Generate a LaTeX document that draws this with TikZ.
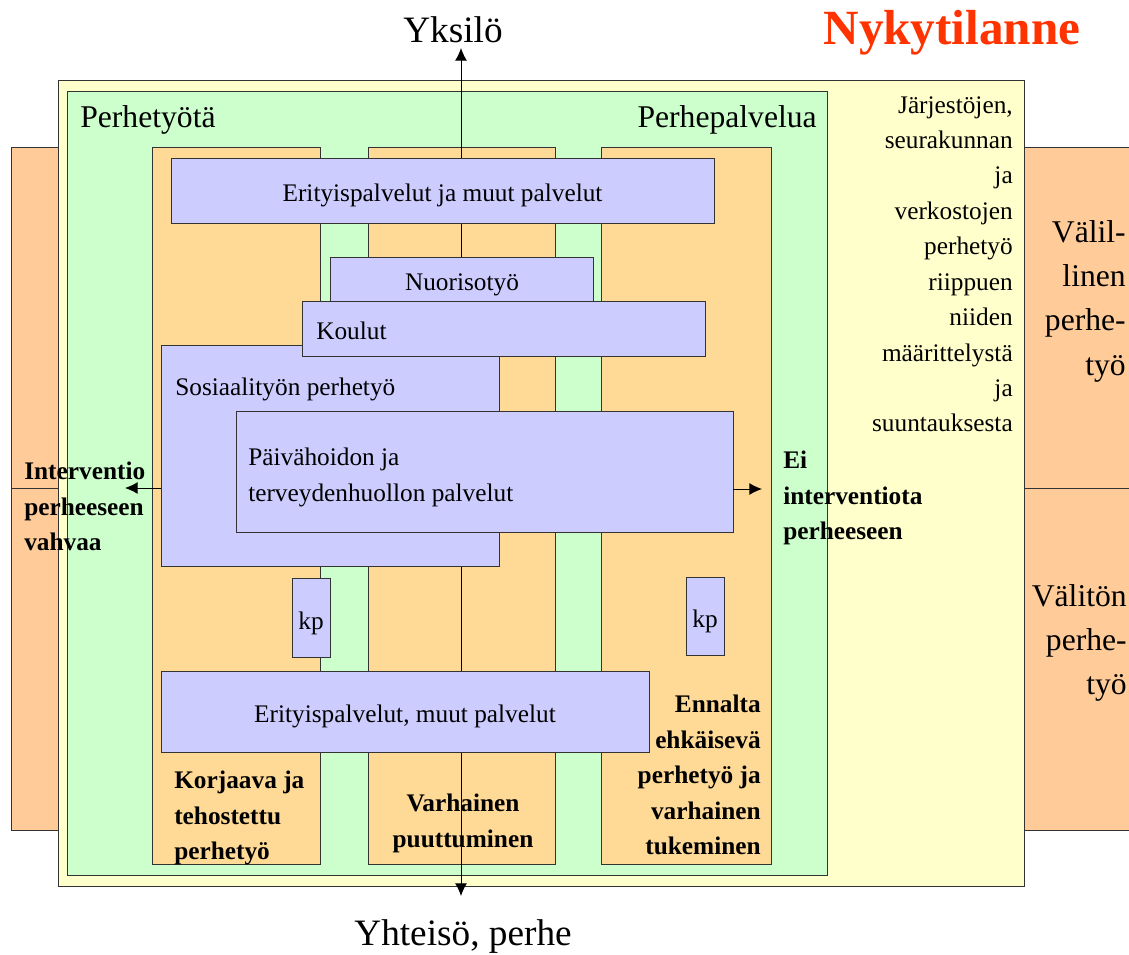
\documentclass[tikz,border=0pt]{standalone}
\usepackage{fontspec}
\setmainfont{Liberation Serif}
\usepackage{xcolor}
\usepackage{tikz}
\usetikzlibrary{arrows.meta, positioning, fit, calc}
\definecolor{paleyellow}{HTML}{FFFFCC}
\definecolor{palegreen}{HTML}{CCFFCC}
\definecolor{colorange}{HTML}{FFDA96}
\definecolor{sideorange}{HTML}{FFCC99}
\definecolor{lilac}{HTML}{CCCCFF}
\definecolor{titlered}{HTML}{FF3300}
\newcommand{\txtsize}{\fontsize{18}{25.2}\selectfont}
\newcommand{\bigsize}{\fontsize{22.5}{31.5}\selectfont}
\newcommand{\axsize}{\fontsize{26.5}{32}\selectfont}
\newcommand{\titlesize}{\fontsize{35}{40}\selectfont}
\tikzstyle{rim} = [draw=black!80, line width=0.6pt]
\tikzstyle{colbox} = [rim, fill=colorange]
\tikzstyle{bluebox} = [rim, fill=lilac, inner sep=0pt]
\tikzstyle{txt} = [inner sep=0pt, font=\txtsize]
\tikzstyle{boldtxt} = [inner sep=0pt, font=\txtsize\bfseries]
\tikzstyle{arrow} = [>={Latex[length=9pt, width=8.5pt]}, line width=0.7pt]

\begin{document}
\begin{tikzpicture}[x=0.025cm, y=-0.025cm]

\useasboundingbox (0, 0) rectangle (1129, 954);
\clip (0, 0) rectangle (1129, 954);

\fill [sideorange] (11, 147) rectangle (70, 830);
\draw [rim] (70, 147) -- (11, 147) -- (11, 830) -- (70, 830);
\draw [rim] (11, 488) -- (70, 488);
\fill [sideorange] (1010, 147) rectangle (1140, 830);
\draw [rim] (1010, 147) -- (1140, 147);
\draw [rim] (1010, 830) -- (1140, 830);
\draw [rim] (1010, 488) -- (1140, 488);

\draw [rim, fill=paleyellow] (58, 80) rectangle (1024, 886);
\draw [rim, fill=palegreen] (67, 91) rectangle (827, 875);

\draw [colbox] (152, 147) rectangle (320, 864);
\draw [colbox] (368, 147) rectangle (555, 864);
\draw [colbox] (601, 147) rectangle (771, 864);

\coordinate (axtop) at (461, 48);
\coordinate (axbot) at (461, 896);
\draw [arrow, <->] (axtop) -- (axbot);

\node [bluebox, fit={(171, 158) (714, 223)}] (eritop) {};
\node [bluebox, fit={(161, 345) (499, 566)}] (sosi) {};
\node [bluebox, fit={(330, 257) (593, 301)}] (nuoriso) {};
\node [bluebox, fit={(302, 301) (705, 356)}] (koulut) {};
\node [bluebox, fit={(236, 411) (733, 532)}] (paiva) {};
\node [bluebox, fit={(292, 578) (330, 657)}] (kpleft) {};
\node [bluebox, fit={(686, 577) (724, 655)}] (kpright) {};
\node [bluebox, fit={(161, 671) (649, 752)}] (eribot) {};

\node [txt, anchor=base] (eritoptext) at (442.5, 201) {Erityispalvelut ja muut palvelut};
\node [txt, anchor=base] (nuorisotext) at (462, 290) {Nuorisotyö};
\node [txt, anchor=base west] (koulutext) at (316, 339) {Koulut};
\node [txt, anchor=base west] (sositext) at (175, 395) {Sosiaalityön perhetyö};
\node [txt, anchor=north west, align=left] (paivatext) at (248, 448) {Päivähoidon ja\\terveydenhuollon palvelut};
\node [txt, anchor=base] (kplefttext) at (311, 629) {kp};
\node [txt, anchor=base] (kprighttext) at (705, 627) {kp};
\node [txt, anchor=base] (eribottext) at (405, 722) {Erityispalvelut, muut palvelut};

\coordinate (intleft) at (125, 488);
\coordinate (intright) at (762, 489);
\draw [arrow, ->] (intleft -| sosi.west) -- (intleft);
\draw [arrow, ->] (intright -| paiva.east) -- (intright);

\node [font=\axsize, anchor=base] (yksilo) at (453, 42) {Yksilö};
\node [font=\axsize, anchor=base] (yhteiso) at (463, 945) {Yhteisö, perhe};
\node [font=\titlesize\bfseries, text=titlered, anchor=base] (nyky) at (952, 44) {Nykytilanne};
\node [font=\bigsize, inner sep=0pt, anchor=base west] (perhetyota) at (80, 127) {Perhetyötä};
\node [font=\bigsize, inner sep=0pt, anchor=base east] (perhepalv) at (817, 127) {Perhepalvelua};

\node [txt, anchor=north east, align=right] (jarjesto) at (1013, 96) {Järjestöjen,\\seurakunnan\\ja\\verkostojen\\perhetyö\\riippuen\\niiden\\määrittelystä\\ja\\suuntauksesta};
\node [font=\bigsize, inner sep=0pt, anchor=north east, align=right] (valillinen) at (1126, 220) {Välil-\\linen\\perhe-\\työ};
\node [font=\bigsize, inner sep=0pt, anchor=north east, align=right] (valiton) at (1127, 584) {Välitön\\perhe-\\työ};

\node [boldtxt, anchor=north west, align=left] (interv) at (24, 462) {Interventio\\perheeseen\\vahvaa};
\node [boldtxt, anchor=north west, align=left] (eiinterv) at (783, 451) {Ei\\interventiota\\perheeseen};
\node [boldtxt, anchor=north west, align=left] (korjaava) at (174, 771) {Korjaava ja\\tehostettu\\perhetyö};
\node [boldtxt, anchor=north, align=center] (varhainen) at (463, 794) {Varhainen\\puuttuminen};
\node [boldtxt, anchor=north east, align=right] (ennalta) at (761, 695) {Ennalta\\ehkäisevä\\perhetyö ja\\varhainen\\tukeminen};

\end{tikzpicture}
\end{document}
